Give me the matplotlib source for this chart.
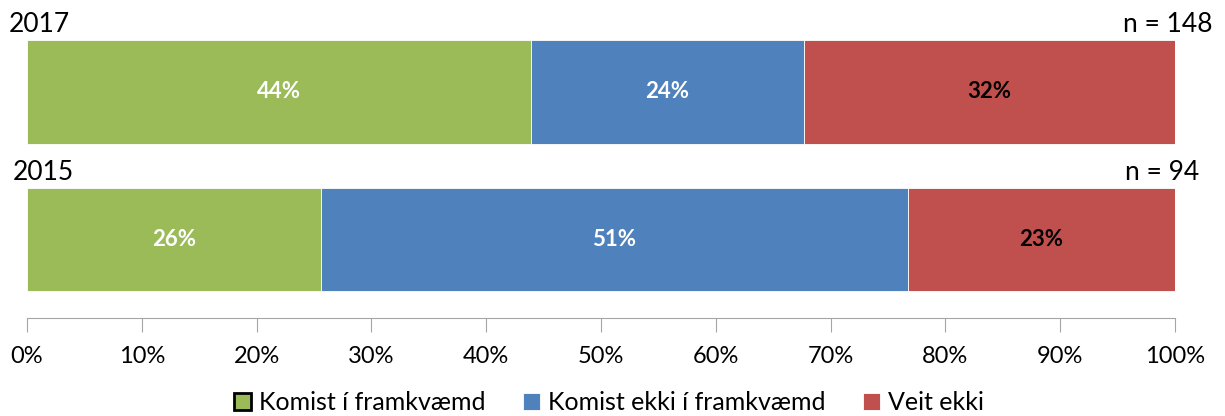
import matplotlib.pyplot as plt
import numpy as np

plt.rcParams['font.family'] = ['Lato', 'DejaVu Sans']

# data
years = ['2017', '2015']
n_labels = ['n = 148', 'n = 94']
categories = ['Komist í framkvæmd', 'Komist ekki í framkvæmd', 'Veit ekki']
completed = [43.9, 25.6]
not_completed = [23.8, 51.1]
dont_know = [32.3, 23.3]
colors = ['#9BBB59', '#4F81BD', '#C0504D']
label_colors = ['white', 'white', 'black']

fig = plt.figure(figsize=(12.25, 4.16), dpi=100)
ax = fig.add_axes([27 / 1225, 98 / 416, 1148 / 1225, 300 / 416])

ypos = np.array([1, 0])
series = [completed, not_completed, dont_know]
left = np.zeros(len(years))
for vals, col, lcol, name in zip(series, colors, label_colors, categories):
    vals = np.array(vals)
    ax.barh(ypos, vals, left=left, height=0.7, color=col,
            edgecolor='white', linewidth=0.6, label=name)
    for y, l, v in zip(ypos, left, vals):
        ax.text(l + v / 2, y, f'{v:.0f}%', ha='center', va='center',
                color=lcol, fontsize=16, fontweight='bold')
    left += vals

# year and n labels above each bar
for y, yr, n in zip(ypos, years, n_labels):
    ax.text(-0.016 if yr == '2017' else -0.012, y + 0.37, yr,
            transform=ax.get_yaxis_transform(), ha='left', va='bottom', fontsize=19)
    ax.text(1.033 if yr == '2017' else 1.021, y + 0.37, n,
            transform=ax.get_yaxis_transform(), ha='right', va='bottom', fontsize=19)

ax.set_xlim(0, 100)
ax.set_ylim(-0.53, 1.5)
ax.set_xticks(np.arange(0, 101, 10))
ax.set_xticklabels([f'{t}%' for t in range(0, 101, 10)], fontsize=17)
ax.set_yticks([])
for s in ['top', 'right', 'left']:
    ax.spines[s].set_visible(False)
ax.spines['bottom'].set_color('#A6A6A6')
ax.tick_params(axis='x', length=10, color='#A6A6A6', pad=10)

handles, labels = ax.get_legend_handles_labels()
handles[0] = plt.Rectangle((0, 0), 1, 1, facecolor=colors[0], edgecolor='black', linewidth=2)
fig.legend(handles, labels, loc='lower center', bbox_to_anchor=(0.497, -0.05), ncol=3,
           frameon=False, fontsize=18, handlelength=0.7, handleheight=0.7,
           handletextpad=0.3, columnspacing=1.5)

fig.savefig('out.png', dpi=100)
